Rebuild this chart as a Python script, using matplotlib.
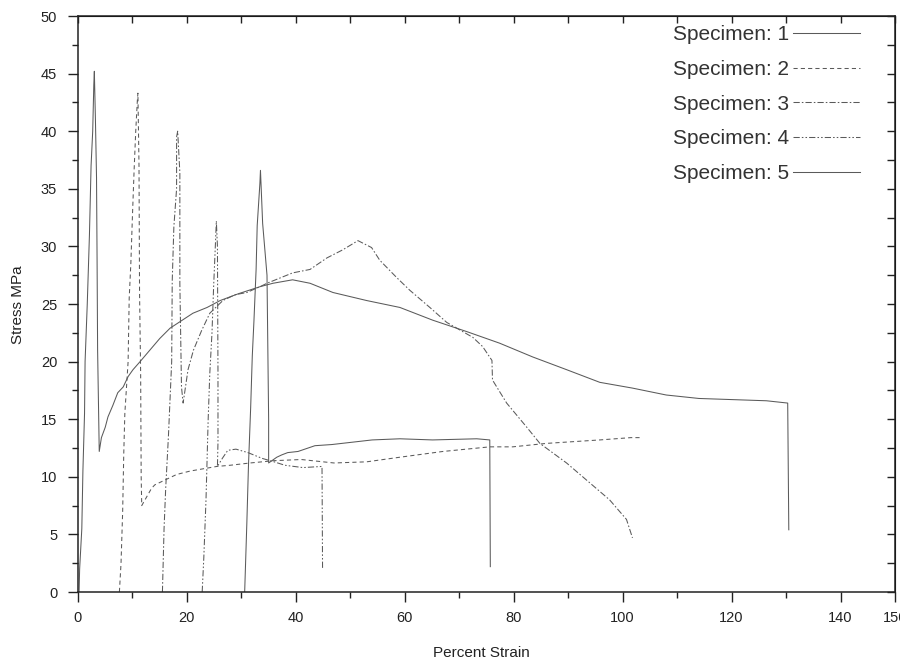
import matplotlib
matplotlib.use("Agg")
import matplotlib.pyplot as plt
from matplotlib.ticker import MultipleLocator

plt.rcParams["font.family"] = ["Liberation Sans", "DejaVu Sans"]

LABELS = ["Specimen: 1", "Specimen: 2", "Specimen: 3", "Specimen: 4", "Specimen: 5"]

# specimen 1
s1_strain = [0.2, 0.3, 0.7, 0.9, 1.2, 1.3, 1.7, 2.1, 2.4, 2.7, 2.9, 3.0,
             3.2, 3.4, 3.5, 3.6, 3.9,
             4.3, 5.0, 5.5, 6.4, 7.3, 8.3, 9.2, 10.1, 11.4, 13.2, 15.0, 16.9,
             21.1, 23.7, 26.1, 29.5, 33.4, 35.8, 39.4, 42.6, 46.8, 53.0, 59.1,
             65.1, 71.4, 77.4, 83.5, 89.7, 95.8, 101.8, 108.0, 114.0, 120.2,
             126.4, 130.3, 130.5]
s1_stress = [0, 2, 5.5, 10.5, 15.5, 20, 25, 31, 37, 40, 44, 45.2,
             41, 36, 29, 21, 12.2,
             13.4, 14.3, 15.2, 16.2, 17.3, 17.8, 18.7, 19.3, 20.0, 21.0, 22.0, 22.9,
             24.2, 24.7, 25.3, 25.9, 26.5, 26.8, 27.1, 26.8, 26.0, 25.3, 24.7,
             23.6, 22.6, 21.6, 20.4, 19.3, 18.2, 17.7, 17.1, 16.8, 16.7,
             16.6, 16.4, 5.4]

# specimen 2
s2_strain = [7.6, 7.9, 8.2, 8.4, 8.6, 9.2, 9.4, 9.7, 10.0, 10.3, 10.6, 10.9, 11.0,
             11.2, 11.3, 11.5, 11.6, 11.7, 12.3, 13.5, 14.1, 18.1, 20.6, 25.5,
             27.9, 31.6, 36.0, 41.0, 47.0, 53.0, 59.1, 67.0, 75.6, 79.8, 86.0,
             95.8, 101.5, 103.5]
s2_stress = [0, 2.5, 7, 12, 15.5, 20, 25.5, 28.5, 32.7, 36.6, 40, 42.7, 43.3,
             37, 26, 19, 10, 7.5, 8.0, 9.0, 9.3, 10.2, 10.5, 10.9,
             11.0, 11.2, 11.4, 11.5, 11.2, 11.3, 11.7, 12.2, 12.6, 12.6, 12.9,
             13.2, 13.4, 13.4]

# specimen 3
s3_strain = [15.5, 15.8, 16.1, 16.6, 17.2, 17.3, 17.6, 18.1, 18.1, 18.3, 18.7, 18.7,
             19.0, 19.3, 20.2, 21.2, 22.7, 24.2, 26.6, 28.8, 31.0, 33.4, 34.7,
             39.4, 42.6, 45.7, 48.6, 51.4, 53.9, 55.4, 58.5, 60.9, 64.6, 67.7,
             72.5, 74.3, 76.0, 76.1, 78.7, 82.4, 84.8, 89.7, 93.9, 97.6, 100.7, 101.8]
s3_stress = [0, 5.5, 9, 13.5, 20, 27, 31.7, 35, 39.5, 40.0, 36.4, 26.8,
             17.8, 16.4, 19.3, 21.0, 22.7, 24.2, 25.3, 25.8, 26.0, 26.5, 26.8,
             27.7, 28.0, 29.0, 29.7, 30.5, 29.9, 28.8, 27.3, 26.2, 24.7, 23.4,
             22.1, 21.3, 20.1, 18.4, 16.4, 14.3, 12.9, 11.2, 9.5, 8.0, 6.3, 4.7]

# specimen 4
s4_strain = [22.8, 23.1, 23.5, 23.9, 24.2, 24.6, 24.9, 25.3, 25.4, 25.6, 25.7, 25.7,
             25.6, 26.5, 27.5, 29.0, 31.2, 33.8, 36.0, 38.0, 41.3, 44.8, 44.9]
s4_stress = [0, 3, 8, 15, 19, 22.5, 26.5, 31, 32.2, 30, 19, 13,
             10.9, 11.6, 12.3, 12.4, 12.1, 11.6, 11.3, 11.0, 10.8, 10.9, 2.0]

# specimen 5
s5_strain = [30.6, 30.8, 31.0, 31.3, 31.7, 32.0, 32.3, 32.7, 32.9, 33.4, 33.5,
             33.9, 34.7, 35.0, 35.0, 36.5, 37.4, 38.5, 40.4, 43.5, 46.6, 50.3,
             54.0, 59.1, 65.1, 73.2, 75.6, 75.7]
s5_stress = [0, 3, 6, 11, 16, 20.5, 23.5, 28, 31.8, 35.5, 36.6,
             32, 27.5, 15, 11.2, 11.7, 11.9, 12.1, 12.2, 12.7, 12.8, 13.0,
             13.2, 13.3, 13.2, 13.3, 13.2, 2.2]

STYLES = ["-", (0, (4, 3)), (0, (6, 2, 1.5, 2)), (0, (6, 2, 1.5, 2, 1.5, 2)), "-"]
LINE_COLOR = "#5a5a5a"
AXIS_COLOR = "#222222"


def main() -> None:
    fig = plt.figure(figsize=(9, 6.65), dpi=100)
    ax = fig.add_axes([78 / 900, 73 / 665, 817 / 900, 576 / 665])

    series = [(s1_strain, s1_stress), (s2_strain, s2_stress), (s3_strain, s3_stress),
              (s4_strain, s4_stress), (s5_strain, s5_stress)]
    for (x, y), style, label in zip(series, STYLES, LABELS):
        ax.plot(x, y, color=LINE_COLOR, linestyle=style, linewidth=0.75, label=label)

    ax.set_xlim(0, 150)
    ax.set_ylim(0, 50)
    ax.set_xticks([0, 20, 40, 60, 80, 100, 120, 140, 150])
    ax.set_xticklabels(["0", "20", "40", "60", "80", "100", "120", "140", "150"])
    ax.xaxis.set_minor_locator(MultipleLocator(10))
    ax.yaxis.set_major_locator(MultipleLocator(5))
    ax.yaxis.set_minor_locator(MultipleLocator(2.5))
    ax.tick_params(axis="both", which="major", direction="out", length=7, width=1,
                   labelsize=10.5, colors=AXIS_COLOR)
    ax.tick_params(axis="x", which="major", pad=7)
    ax.tick_params(axis="y", which="major", pad=8)
    ax.tick_params(axis="both", which="minor", direction="out", length=4.5, width=1,
                   colors=AXIS_COLOR)
    for spine in ax.spines.values():
        spine.set_linewidth(1.1)
        spine.set_color(AXIS_COLOR)

    top = ax.secondary_xaxis("top")
    top.xaxis.set_major_locator(MultipleLocator(10))
    top.tick_params(direction="in", length=5, width=1, labeltop=False, colors=AXIS_COLOR)
    right = ax.secondary_yaxis("right")
    right.yaxis.set_major_locator(MultipleLocator(2.5))
    right.tick_params(direction="in", length=6, width=1, labelright=False, colors=AXIS_COLOR)

    fig.text(481 / 900, 1 - 653 / 665, "Percent Strain", ha="center", va="center",
             fontsize=11, color=AXIS_COLOR)
    fig.text(18 / 900, 1 - 305 / 665, "Stress MPa", ha="center", va="center",
             rotation=90, fontsize=11, color=AXIS_COLOR)

    ax.legend(loc="upper right", bbox_to_anchor=(860 / 900, 1 - 25 / 665),
              bbox_transform=fig.transFigure, frameon=False, markerfirst=False,
              fontsize=15, handlelength=3.2, handletextpad=0.2, labelspacing=0.76,
              borderaxespad=0, borderpad=0, labelcolor="#333333")

    fig.savefig("out.png", dpi=100)
    plt.close(fig)


if __name__ == "__main__":
    main()
